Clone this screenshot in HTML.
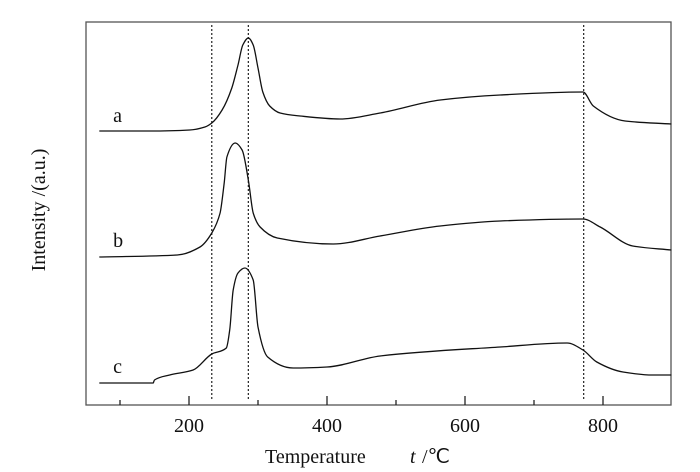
<!DOCTYPE html>
<html><head><meta charset="utf-8"><style>
html,body{margin:0;padding:0;background:#fff}
svg{display:block}
text{font-family:"Liberation Serif",serif;fill:#111}
</style></head><body>
<svg id="chart" width="700" height="472" viewBox="0 0 700 472">
<rect x="86" y="22" width="585" height="383" fill="none" stroke="#555" stroke-width="1.3"/>
<g id="ticks"></g>
<g id="refs"></g>
<g id="series"></g>
<text x="45" y="210" font-size="20" text-anchor="middle" transform="rotate(-90 45 210)">Intensity /(a.u.)</text>
<text x="265" y="463" font-size="20">Temperature</text>
<text x="410" y="463" font-size="20" font-style="italic">t</text>
<text x="422" y="463" font-size="20" font-family="Noto Sans CJK SC, serif">/℃</text>
</svg>
<script>
const majorTicks=[200,400,600,800];
const minorTicks=[100,300,500,700];
const refLines=[233,286,772];
const seriesNames=["a","b","c"];
const aT=[70,143,201,223,233,248,262,271,278,286,293,300,307,317,332,361,419,477,564,651,771,786,832,899];
const aV=[274,274,275,278,282,295,317,340,360,367,360,337,313,299,292,289,286,292,305,310,313,299,284,281];
const bT=[70,183,216,233,245,251,255,267,277,286,293,303,328,409,477,564,651,771,796,843,899];
const bV=[148,150,158,172,192,222,248,262,255,225,192,178,167,161,169,179,184,186,178,159,155];
const cT=[70,148,150,172,206,233,254,259,264,271,281,293,300,314,351,400,477,651,748,771,791,829,872,899];
const cV=[22,22,25,30,35,51,57,75,115,132,137,125,78,48,37,38,49,58,62,55,43,33,30,30];
const labelT=[90,90,90];
const labelV=[283,158,32];

const xs=v=>189+(v-200)*0.69;
const ys=v=>405-v;
const NS="http://www.w3.org/2000/svg";
function mk(tag,attrs,parent){const e=document.createElementNS(NS,tag);for(const k in attrs)e.setAttribute(k,attrs[k]);parent.appendChild(e);return e;}
function monotone(p){
  const n=p.length,dx=[],m=[],s=[];
  for(let i=0;i<n-1;i++){dx[i]=p[i+1][0]-p[i][0];s[i]=(p[i+1][1]-p[i][1])/dx[i];}
  m[0]=s[0];m[n-1]=s[n-2];
  for(let i=1;i<n-1;i++){m[i]=(s[i-1]*s[i]<=0)?0:(3*(dx[i-1]+dx[i]))/((2*dx[i]+dx[i-1])/s[i-1]+(dx[i]+2*dx[i-1])/s[i]);}
  let d='M'+p[0][0].toFixed(1)+','+p[0][1].toFixed(1);
  for(let i=0;i<n-1;i++){
    const h=dx[i]/3;
    d+=' C'+(p[i][0]+h).toFixed(1)+','+(p[i][1]+m[i]*h).toFixed(1)+' '+(p[i+1][0]-h).toFixed(1)+','+(p[i+1][1]-m[i+1]*h).toFixed(1)+' '+p[i+1][0].toFixed(1)+','+p[i+1][1].toFixed(1);
  }
  return d;
}
const tg=document.getElementById('ticks');
majorTicks.forEach(t=>{
  const l=mk('line',{x1:xs(t),x2:xs(t),y1:405,y2:396,stroke:'#222','stroke-width':1.3},tg);
  
  
  const tx=mk('text',{x:xs(t),y:432,'font-size':20,'text-anchor':'middle'},tg);
  tx.textContent=t;
  
  
});
minorTicks.forEach(t=>{
  const l=mk('line',{x1:xs(t),x2:xs(t),y1:405,y2:400,stroke:'#222','stroke-width':1.3},tg);
  
  
});
const rg=document.getElementById('refs');
refLines.forEach(t=>{
  const l=mk('line',{x1:xs(t),x2:xs(t),y1:25,y2:400,stroke:'#222','stroke-width':1.2,'stroke-dasharray':'2,2'},rg);
  
  
});
const sg=document.getElementById('series');
[[aT,aV],[bT,bV],[cT,cV]].forEach((s,i)=>{
  const pts=s[0].map((t,j)=>[xs(t),ys(s[1][j])]);
  const p=mk('path',{d:monotone(pts),fill:'none',stroke:'#111','stroke-width':1.3,'stroke-linejoin':'round'},sg);
  
  
  const tx=mk('text',{x:xs(labelT[i]),y:ys(labelV[i]),'font-size':20},sg);
  tx.textContent=seriesNames[i];
  
  
});
</script>
</body></html>
